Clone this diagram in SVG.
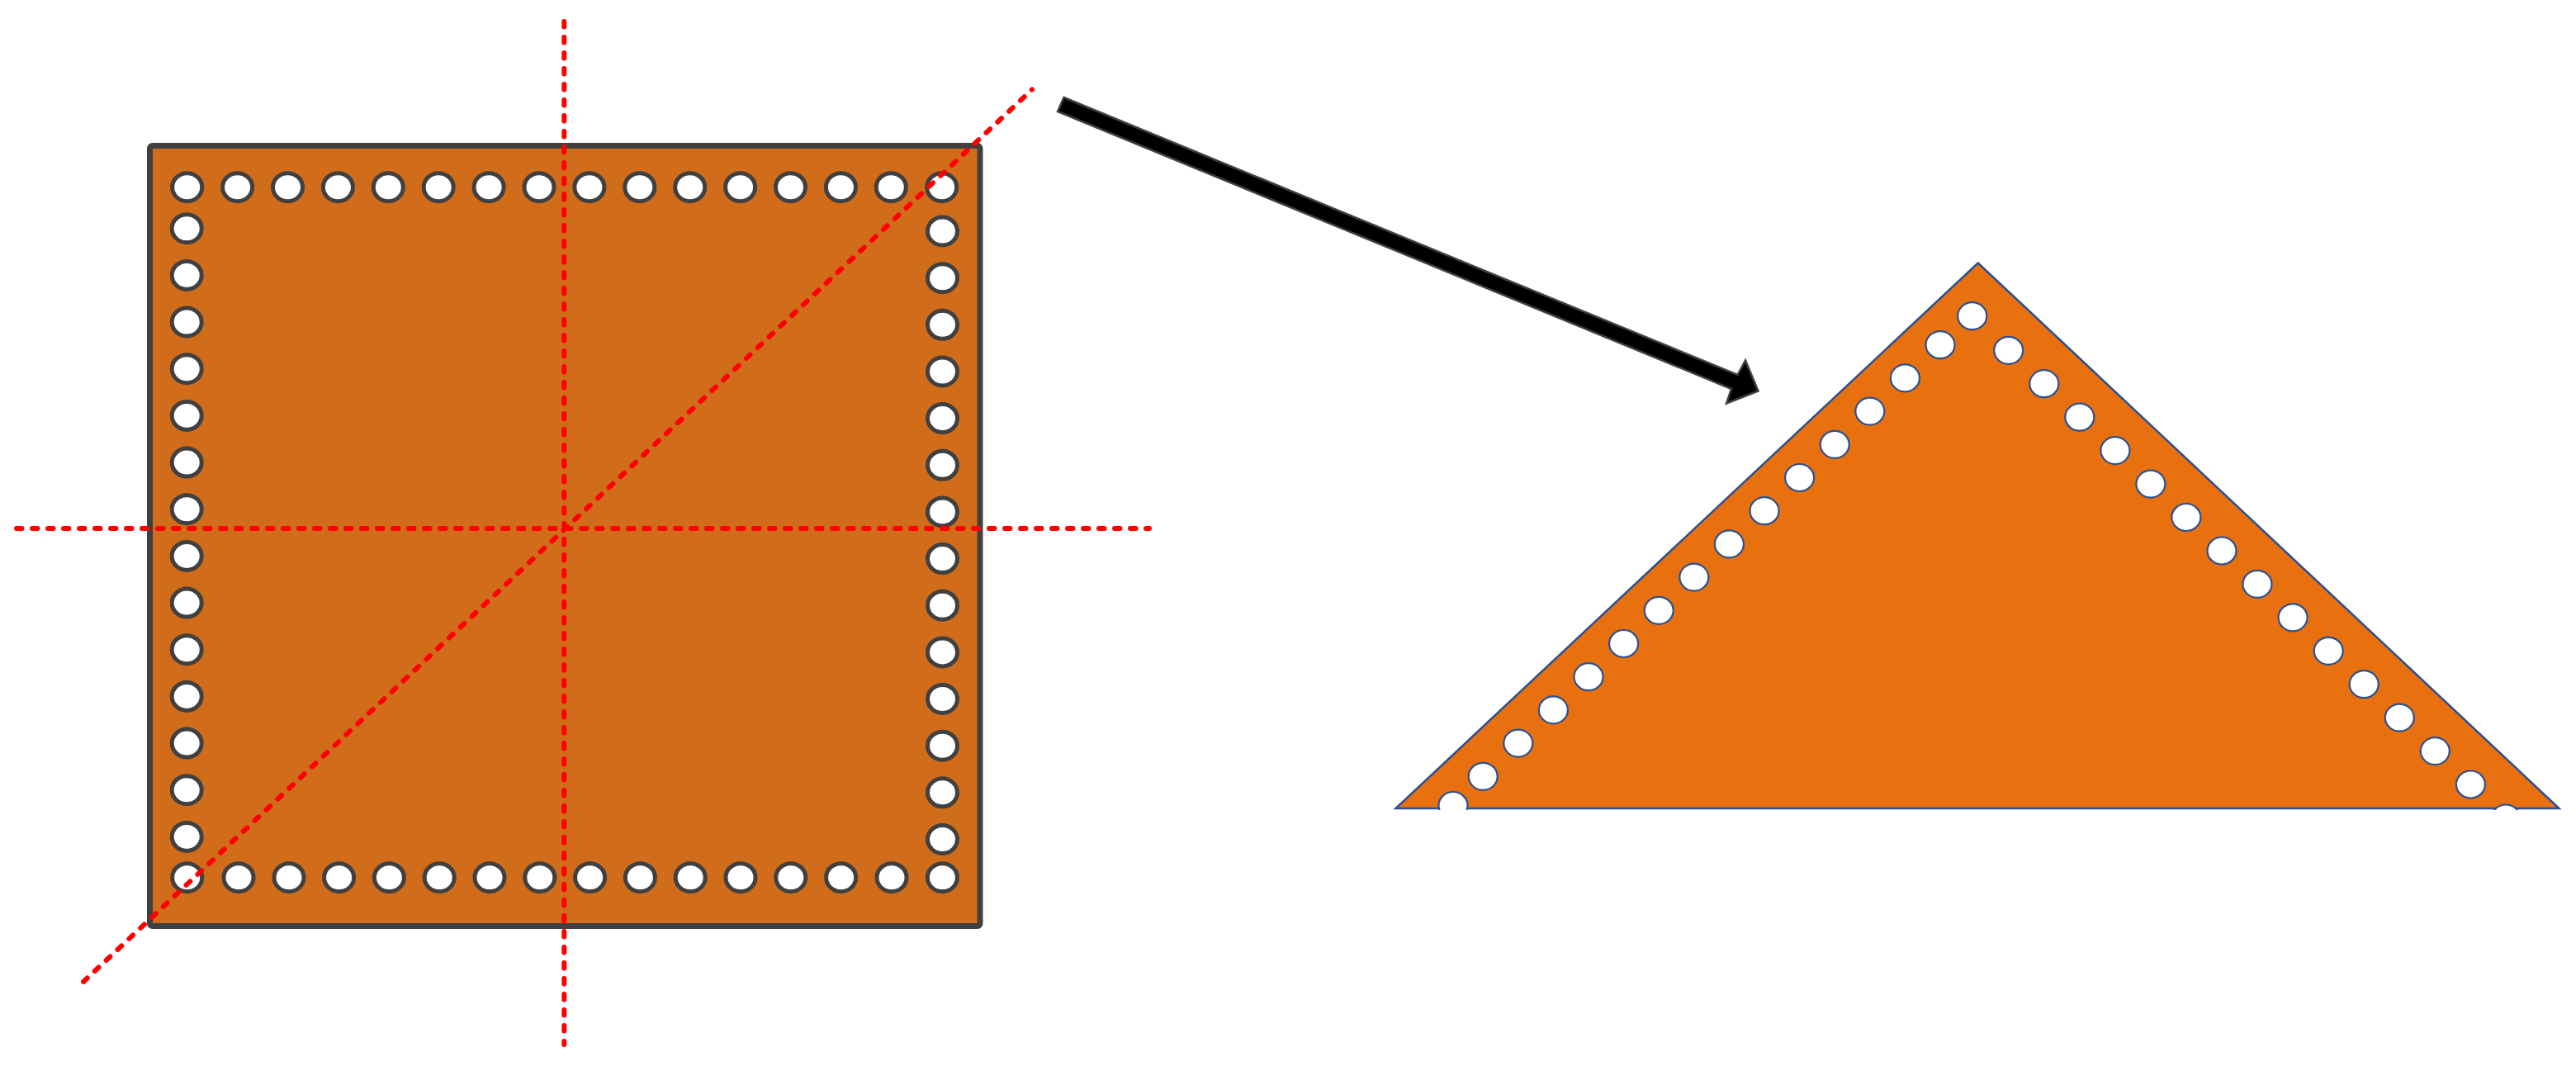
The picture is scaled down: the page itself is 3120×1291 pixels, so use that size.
<svg xmlns="http://www.w3.org/2000/svg" width="3120" height="1291" viewBox="0 0 3120 1291">
<style>
.sq-hole{fill:#FFFFFF;stroke:#404040;stroke-width:5}
.tr-hole{fill:#FFFFFF;stroke:#2A5190;stroke-width:2.2}
.guide{fill:none;stroke:#FF0000;stroke-width:6;stroke-dasharray:6.5 12.5;stroke-linecap:round}
</style>
<defs>
<ellipse id="sh" rx="18" ry="17" class="sq-hole"/>
<ellipse id="th" rx="17.5" ry="16.5" class="tr-hole"/>
<clipPath id="triClip"><rect x="1600" y="0" width="1520" height="981"/></clipPath>
</defs>
<rect width="3120" height="1291" fill="#FFFFFF"/>
<g id="square">
<rect x="181.5" y="176.5" width="1005.5" height="945" rx="3" fill="#D06C1A" stroke="#404040" stroke-width="7"/>
<g id="square-top-row">
<use href="#sh" x="226.7" y="226.7"/><use href="#sh" x="287.6" y="226.7"/><use href="#sh" x="348.5" y="226.7"/><use href="#sh" x="409.4" y="226.7"/><use href="#sh" x="470.3" y="226.7"/><use href="#sh" x="531.2" y="226.7"/><use href="#sh" x="592.1" y="226.7"/><use href="#sh" x="653.0" y="226.7"/><use href="#sh" x="713.9" y="226.7"/><use href="#sh" x="774.8" y="226.7"/><use href="#sh" x="835.7" y="226.7"/><use href="#sh" x="896.6" y="226.7"/><use href="#sh" x="957.5" y="226.7"/><use href="#sh" x="1018.4" y="226.7"/><use href="#sh" x="1079.3" y="226.7"/><use href="#sh" x="1140.7" y="226.7"/>
</g>
<g id="square-bottom-row">
<use href="#sh" x="226.7" y="1062.7"/><use href="#sh" x="289" y="1062.7"/><use href="#sh" x="350" y="1062.7"/><use href="#sh" x="410.6" y="1062.7"/><use href="#sh" x="471.4" y="1062.7"/><use href="#sh" x="532.2" y="1062.7"/><use href="#sh" x="593" y="1062.7"/><use href="#sh" x="653.8" y="1062.7"/><use href="#sh" x="714.6" y="1062.7"/><use href="#sh" x="775.4" y="1062.7"/><use href="#sh" x="836.2" y="1062.7"/><use href="#sh" x="897" y="1062.7"/><use href="#sh" x="957.8" y="1062.7"/><use href="#sh" x="1018.6" y="1062.7"/><use href="#sh" x="1080" y="1062.7"/><use href="#sh" x="1141.4" y="1062.7"/>
</g>
<g id="square-left-col">
<use href="#sh" x="226.2" y="276.7"/><use href="#sh" x="226.2" y="333.4"/><use href="#sh" x="226.2" y="390.0"/><use href="#sh" x="226.2" y="446.7"/><use href="#sh" x="226.2" y="503.4"/><use href="#sh" x="226.2" y="560.1"/><use href="#sh" x="226.2" y="616.7"/><use href="#sh" x="226.2" y="673.4"/><use href="#sh" x="226.2" y="730.1"/><use href="#sh" x="226.2" y="786.7"/><use href="#sh" x="226.2" y="843.4"/><use href="#sh" x="226.2" y="900.1"/><use href="#sh" x="226.2" y="956.7"/><use href="#sh" x="226.2" y="1013.4"/>
</g>
<g id="square-right-col">
<use href="#sh" x="1141.5" y="280.0"/><use href="#sh" x="1141.5" y="336.7"/><use href="#sh" x="1141.5" y="393.3"/><use href="#sh" x="1141.5" y="450.0"/><use href="#sh" x="1141.5" y="506.6"/><use href="#sh" x="1141.5" y="563.3"/><use href="#sh" x="1141.5" y="619.9"/><use href="#sh" x="1141.5" y="676.6"/><use href="#sh" x="1141.5" y="733.2"/><use href="#sh" x="1141.5" y="789.9"/><use href="#sh" x="1141.5" y="846.5"/><use href="#sh" x="1141.5" y="903.2"/><use href="#sh" x="1141.5" y="959.8"/><use href="#sh" x="1141.5" y="1016.5"/>
</g>
</g>
<g id="fold-lines">
<line class="guide" x1="683.3" y1="26" x2="683.3" y2="1265"/>
<line class="guide" x1="20" y1="640" x2="1392" y2="640"/>
<line class="guide" x1="101" y1="1189" x2="1250" y2="108.5"/>
</g>
<g id="triangle">
<polygon points="2395.7,318.5 3099.5,979 1690.5,979" fill="#E8700F" stroke="#2A5190" stroke-width="2.5" stroke-linejoin="miter"/>
<g clip-path="url(#triClip)">
<use href="#th" x="2388.7" y="382.7"/><use href="#th" x="2350" y="417.7"/><use href="#th" x="2307.4" y="457.9"/><use href="#th" x="2264.8" y="498.1"/><use href="#th" x="2222.2" y="538.3"/><use href="#th" x="2179.6" y="578.5"/><use href="#th" x="2137.0" y="618.7"/><use href="#th" x="2094.4" y="658.9"/><use href="#th" x="2051.8" y="699.1"/><use href="#th" x="2009.2" y="739.3"/><use href="#th" x="1966.6" y="779.5"/><use href="#th" x="1924.0" y="819.7"/><use href="#th" x="1881.4" y="859.9"/><use href="#th" x="1838.8" y="900.1"/><use href="#th" x="1796.2" y="940.3"/><use href="#th" x="1760" y="975.5"/>
<use href="#th" x="2432.7" y="424.3"/><use href="#th" x="2475.8" y="464.7"/><use href="#th" x="2518.8" y="505.2"/><use href="#th" x="2561.9" y="545.6"/><use href="#th" x="2604.9" y="586.1"/><use href="#th" x="2647.9" y="626.5"/><use href="#th" x="2691.0" y="667.0"/><use href="#th" x="2734.0" y="707.4"/><use href="#th" x="2777.1" y="747.8"/><use href="#th" x="2820.2" y="788.3"/><use href="#th" x="2863.2" y="828.7"/><use href="#th" x="2906.3" y="869.1"/><use href="#th" x="2949.3" y="909.6"/><use href="#th" x="2992.4" y="950.0"/><use href="#th" x="3035" y="991"/>
</g>
</g>
<g id="connectors">
<polygon id="arrow" points="1288.5,118 2104.5,454 2114,436.5 2129.5,473.5 2091,488.5 2097,471 1281,135" fill="#000000" stroke="#404040" stroke-width="2.5" stroke-linejoin="miter"/>
</g>
</svg>
